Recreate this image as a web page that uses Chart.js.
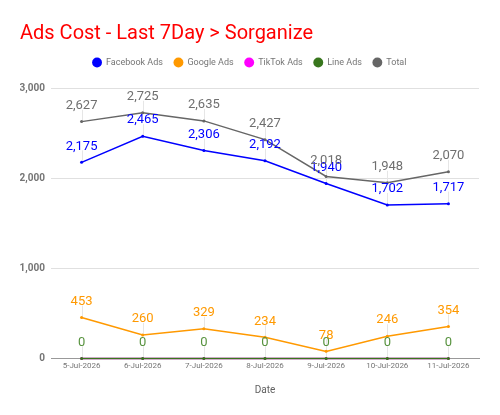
<!DOCTYPE html>
<html>
<head>
<meta charset="utf-8">
<script src="https://cdn.jsdelivr.net/npm/chart.js@4"></script>
<style>
  html, body { margin: 0; padding: 0; background: #fff; }
</style>
</head>
<body>
<canvas id="adsChart" width="500" height="415"></canvas>
<script>
// data
const dates = ['5-Jul-2026', '6-Jul-2026', '7-Jul-2026', '8-Jul-2026', '9-Jul-2026', '10-Jul-2026', '11-Jul-2026'];
const facebookAds = [2175, 2465, 2306, 2192, 1940, 1702, 1717];
const googleAds = [453, 260, 329, 234, 78, 246, 354];
const tiktokAds = [0, 0, 0, 0, 0, 0, 0];
const lineAds = [0, 0, 0, 0, 0, 0, 0];
const totalCost = [2627, 2725, 2635, 2427, 2018, 1948, 2070];
const yTicks = [0, 1000, 2000, 3000];

// value labels above each point, with a thin stem down to the point
const labelPlugin = {
    id: 'valueLabels',
    beforeDatasetsDraw(chart) {
        const ctx = chart.ctx;
        ctx.save();
        ctx.strokeStyle = '#e6e6e6';
        ctx.lineWidth = 1;
        chart.data.datasets.forEach((ds, i) => {
            const meta = chart.getDatasetMeta(i);
            meta.data.forEach(pt => {
                const x = Math.round(pt.x) + 0.5;
                ctx.beginPath();
                ctx.moveTo(x, pt.y);
                ctx.lineTo(x, pt.y - 12);
                ctx.stroke();
            });
        });
        ctx.restore();
    },
    afterDatasetsDraw(chart) {
        const ctx = chart.ctx;
        ctx.save();
        ctx.font = '13px Roboto';
        ctx.textAlign = 'center';
        ctx.textBaseline = 'middle';
        chart.data.datasets.forEach((ds, i) => {
            if (ds.hideLabels) return; // tiktok zeros sit under the line ads zeros
            const meta = chart.getDatasetMeta(i);
            ctx.fillStyle = ds.labelColor;
            meta.data.forEach((pt, j) => {
                ctx.fillText(ds.data[j].toLocaleString('en-US'), pt.x, pt.y - 16);
            });
        });
        ctx.restore();
    }
};

// a bit more room under the legend
const legendGap = {
    id: 'legendGap',
    beforeInit(chart) {
        const fit = chart.legend.fit;
        chart.legend.fit = function () {
            fit.bind(chart.legend)();
            this.height += 11;
        };
    }
};

const ctx = document.getElementById('adsChart').getContext('2d');
const adsChart = new Chart(ctx, {
    type: 'line',
    data: {
        labels: dates,
        datasets: [
            { label: 'Facebook Ads', data: facebookAds, borderColor: '#0000ff', backgroundColor: '#0000ff', labelColor: '#0000ff', order: 1 },
            { label: 'Google Ads', data: googleAds, borderColor: '#ff9900', backgroundColor: '#ff9900', labelColor: '#ff9900', order: 2 },
            { label: 'TikTok Ads', data: tiktokAds, borderColor: '#ff00ff', backgroundColor: '#ff00ff', labelColor: '#ff00ff', order: 4, hideLabels: true },
            { label: 'Line Ads', data: lineAds, borderColor: '#38761d', backgroundColor: '#38761d', labelColor: '#57923e', order: 3 },
            { label: 'Total', data: totalCost, borderColor: '#666666', backgroundColor: '#666666', labelColor: '#6f6f6f', order: 0 }
        ]
    },
    options: {
        responsive: false,
        animation: false,
        layout: { padding: { left: 20, right: 21, top: 0, bottom: 15 } },
        elements: {
            line: { borderWidth: 1.5, tension: 0 },
            point: { radius: 1.5, borderWidth: 0, hoverRadius: 1.5 }
        },
        datasets: { line: { clip: 4 } },
        plugins: {
            title: {
                display: true,
                text: 'Ads Cost - Last 7Day > Sorganize',
                align: 'start',
                color: '#ff0000',
                font: { family: 'Roboto', size: 20, weight: 'normal' },
                padding: { top: 22, bottom: 1 }
            },
            legend: {
                labels: {
                    usePointStyle: true,
                    pointStyle: 'circle',
                    boxWidth: 10,
                    boxHeight: 7,
                    padding: 11,
                    color: '#757575',
                    font: { family: 'Roboto', size: 9 },
                    sort: (a, b) => a.datasetIndex - b.datasetIndex
                }
            },
            tooltip: { enabled: false }
        },
        scales: {
            x: {
                offset: true,
                grid: { display: false, drawTicks: false },
                border: { color: '#999999' },
                ticks: {
                    autoSkip: false,
                    maxRotation: 0,
                    color: '#757575',
                    font: { family: 'Roboto', size: 8 },
                    padding: 3
                },
                title: {
                    display: true,
                    text: 'Date',
                    color: '#616161',
                    font: { family: 'Roboto', size: 10 },
                    padding: { top: 10 }
                }
            },
            y: {
                min: 0,
                max: 3000,
                afterBuildTicks(axis) { axis.ticks = yTicks.map(v => ({ value: v })); },
                afterFit(axis) { axis.width = 31; },
                grid: { color: '#e0e0e0', lineWidth: 1, drawTicks: false },
                border: { display: false },
                ticks: {
                    color: '#757575',
                    padding: 6,
                    font: { family: 'Roboto', size: 10, weight: 'bold' },
                    callback: v => v.toLocaleString('en-US')
                }
            }
        }
    },
    plugins: [labelPlugin, legendGap]
});
</script>
</body>
</html>
